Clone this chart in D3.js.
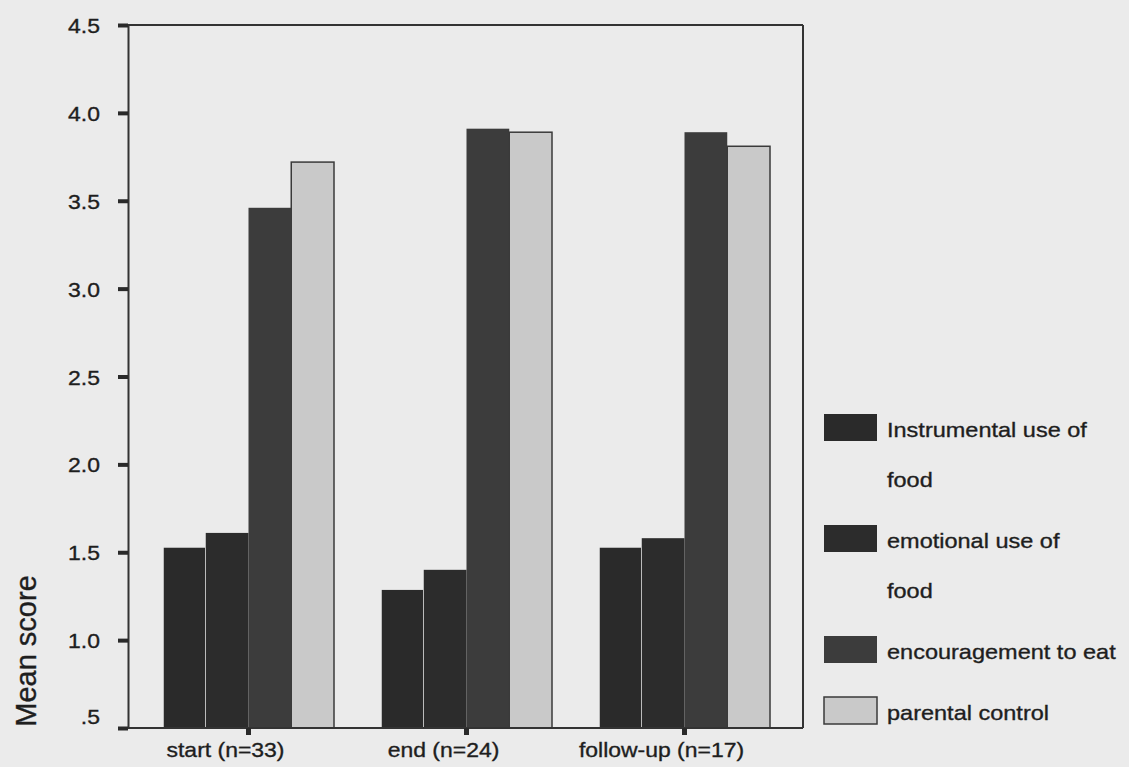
<!DOCTYPE html>
<html>
<head>
<meta charset="utf-8">
<script src="https://cdn.jsdelivr.net/npm/d3@7"></script>
<style>
  html, body { margin: 0; padding: 0; background: #ebebeb; }
  svg { display: block; }
  text { font-family: "Liberation Sans", Arial, sans-serif; fill: #1e1e1e; stroke: #1e1e1e; stroke-width: 0.35px; }
</style>
</head>
<body>
<svg id="chart" width="1129" height="767"></svg>
<script>
// ---- data ----
const categories = ["start (n=33)", "end (n=24)", "follow-up (n=17)"];
const seriesNames = ["Instrumental use of food", "emotional use of food", "encouragement to eat", "parental control"];
const legendLines = [["Instrumental use of", "food"], ["emotional use of", "food"], ["encouragement to eat"], ["parental control"]];
const instrumental = [1.53, 1.29, 1.53];
const emotional = [1.61, 1.40, 1.58];
const encouragement = [3.46, 3.91, 3.89];
const parentalControl = [3.72, 3.89, 3.81];
const yTicks = [0.5, 1.0, 1.5, 2.0, 2.5, 3.0, 3.5, 4.0, 4.5];
const yTickLabels = [".5", "1.0", "1.5", "2.0", "2.5", "3.0", "3.5", "4.0", "4.5"];
const yLabel = "Mean score";

(function () {
const seriesValues = [instrumental, emotional, encouragement, parentalControl];
const fills = ["#2a2a2a", "#2c2c2c", "#3c3c3c", "#c9c9c9"];
const strokes = ["#ebebeb", "none", "none", "#3a3a3a"];
const strokeW = [1.5, 0, 0, 1.5];

const svg = d3.select("#chart");
const stretch = 1.12;

const pLeft = 128, pRight = 803, pTop = 25, pBottom = 728;
const y = d3.scaleLinear().domain([0.5, 4.5]).range([pBottom, pTop]);
const x = d3.scalePoint().domain(categories).range([248, 684]);
const xs = d3.scaleBand().domain(seriesNames).range([-85, 86]).paddingInner(0);

// bars
categories.forEach((c, ci) => {
  const g = svg.append("g").attr("transform", `translate(${x(c)},0)`);
  seriesNames.forEach((s, si) => {
    const v = seriesValues[si][ci];
    g.append("rect")
      .attr("x", xs(s))
      .attr("y", y(v))
      .attr("width", xs.bandwidth())
      .attr("height", y(0.5) - y(v))
      .attr("fill", fills[si])
      .attr("stroke", strokes[si])
      .attr("stroke-width", strokeW[si]);
  });
});

// frame
svg.append("line").attr("x1", pLeft - 10).attr("x2", pRight).attr("y1", pTop).attr("y2", pTop)
  .attr("stroke", "#333").attr("stroke-width", 2);
svg.append("line").attr("x1", pRight).attr("x2", pRight).attr("y1", pTop).attr("y2", pBottom)
  .attr("stroke", "#333").attr("stroke-width", 2);

// y axis
const yAxis = d3.axisLeft(y).tickValues(yTicks).tickSize(0).tickPadding(0).tickFormat("");
const yg = svg.append("g").attr("transform", `translate(${pLeft},0)`).call(yAxis);
yg.select(".domain").attr("stroke", "#333").attr("stroke-width", 2);
yg.selectAll(".tick text").remove();
yg.selectAll(".tick").append("rect")
  .attr("x", -10).attr("y", -2).attr("width", 10).attr("height", 4).attr("fill", "#2a2a2a");
yg.selectAll(".tick").append("text")
  .attr("transform", (d, i) => `translate(-28,${i === 0 ? -5 : 7.5}) scale(${stretch},1)`)
  .attr("text-anchor", "end")
  .attr("font-size", "20.5px")
  .text((d, i) => yTickLabels[i]);

// x axis
const xAxis = d3.axisBottom(x).tickSize(0).tickFormat("");
const xg = svg.append("g").attr("transform", `translate(0,${pBottom})`).call(xAxis);
xg.select(".domain").attr("d", `M${pLeft},0H${pRight}`).attr("stroke", "#333").attr("stroke-width", 2);
xg.selectAll(".tick text").remove();
xg.selectAll(".tick").append("rect")
  .attr("x", -2.5).attr("y", 0).attr("width", 5).attr("height", 7).attr("fill", "#2a2a2a");
xg.selectAll(".tick").append("text")
  .attr("transform", `translate(-23,29) scale(${stretch},1)`)
  .attr("text-anchor", "middle")
  .attr("font-size", "20.5px")
  .text(d => d);

// y label
svg.append("text")
  .attr("transform", `translate(36,651) rotate(-90)`)
  .attr("text-anchor", "middle")
  .attr("font-size", "29px")
  .text(yLabel);

// legend
let ly = 437;
legendLines.forEach((lines, i) => {
  svg.append("rect")
    .attr("x", 824).attr("y", ly - 23).attr("width", 53).attr("height", 27)
    .attr("fill", fills[i])
    .attr("stroke", i === 3 ? "#3a3a3a" : "none")
    .attr("stroke-width", 1.5);
  lines.forEach((t, li) => {
    svg.append("text")
      .attr("transform", `translate(887,${ly + li * 50}) scale(${stretch},1)`)
      .attr("font-size", "21px")
      .text(t);
  });
  ly += lines.length * 50 + 11;
});
})();
</script>
</body>
</html>
